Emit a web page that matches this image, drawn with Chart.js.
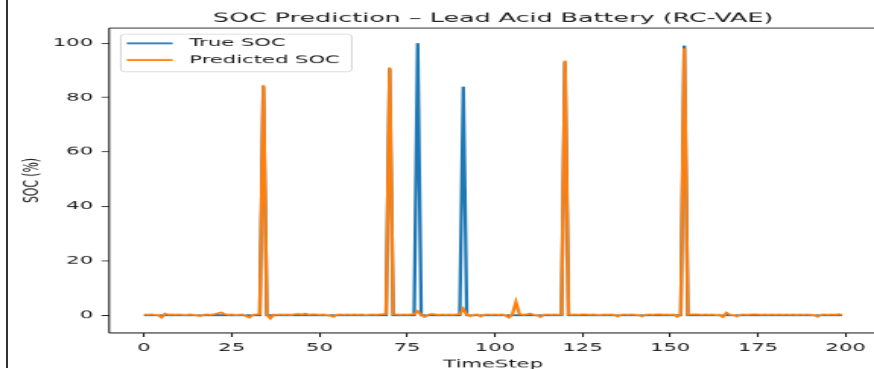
<!DOCTYPE html>
<html>
<head>
<meta charset="utf-8">
<script src="https://cdn.jsdelivr.net/npm/chart.js@4.4.1/dist/chart.umd.min.js"></script>
<style>
  html, body { margin: 0; padding: 0; background: #fff; overflow: hidden; width: 874px; height: 369px; }
  #edge { position: absolute; left: 6px; top: 0; width: 1.5px; height: 368px; background: #333; }
  #wrap { position: absolute; left: 0; top: 0; transform: scale(1.52, 0.78); transform-origin: 0 0; }
</style>
</head>
<body>
<div id="edge"></div>
<div id="wrap"><canvas id="soc" width="577" height="476"></canvas></div>
<script>
const seriesNames = ['True SOC', 'Predicted SOC'];

const trueSoc = [
  0, 0, 0, 0, 0, 0, 0, 0, 0, 0, 0, 0, 0, 0, 0, 0, 0, 0, 0, 0,
  0, 0, 0, 0, 0, 0, 0, 0, 0, 0, 0, 0, 0, 0, 84, 0, 0, 0, 0, 0,
  0, 0, 0, 0, 0, 0, 0, 0, 0, 0, 0, 0, 0, 0, 0, 0, 0, 0, 0, 0,
  0, 0, 0, 0, 0, 0, 0, 0, 0, 0, 90.5, 0, 0, 0, 0, 0, 0, 0, 100, 0,
  0, 0, 0, 0, 0, 0, 0, 0, 0, 0, 0, 84, 0, 0, 0, 0, 0, 0, 0, 0,
  0, 0, 0, 0, 0, 0, 0, 0, 0, 0, 0, 0, 0, 0, 0, 0, 0, 0, 0, 0,
  93, 0, 0, 0, 0, 0, 0, 0, 0, 0, 0, 0, 0, 0, 0, 0, 0, 0, 0, 0,
  0, 0, 0, 0, 0, 0, 0, 0, 0, 0, 0, 0, 0, 0, 99, 0, 0, 0, 0, 0,
  0, 0, 0, 0, 0, 0, 0, 0, 0, 0, 0, 0, 0, 0, 0, 0, 0, 0, 0, 0,
  0, 0, 0, 0, 0, 0, 0, 0, 0, 0, 0, 0, 0, 0, 0, 0, 0, 0, 0, 0
];

const predSoc = [
  0.3, 0.2, 0.3, 0.2, 0.1, -0.8, 0.6, 0.2, 0.3, 0.2, 0.3, 0.2, 0.1, 0.3, 0.2, 0.0, -0.3, 0.2, 0.3, 0.2,
  0.4, 0.7, 1.0, 0.4, 0.2, 0.3, 0.1, 0.2, 0.3, -0.2, -0.8, 0.2, 0.3, 0.4, 84.5, 0.2, -1.1, 0.3, 0.2, 0.3,
  0.2, 0.3, 0.1, 0.4, 0.5, 0.3, 0.6, 0.2, 0.4, 0.3, 0.2, 0.3, 0.1, -0.1, -0.5, 0.2, 0.3, 0.2, 0.3, 0.2,
  0.3, 0.2, 0.3, 0.1, 0.2, 0.3, 0.2, 0.3, 0.4, 0.5, 91.0, 0.4, 0.3, 0.2, 0.3, 0.2, 0.3, 0.4, 1.5, 0.1,
  -0.6, 0.2, 0.5, 0.3, 0.2, 0.3, 0.2, 0.3, 0.2, 0.3, 0.4, 2.4, 0.2, -0.3, 0.2, 0.3, -0.4, 0.2, 0.3, 0.2,
  0.3, 0.2, 0.3, 0.0, -0.8, 0.4, 4.8, 0.5, 0.2, 0.3, 0.6, 0.2, 0.1, -0.6, 0.2, 0.3, 0.2, 0.3, 0.2, 0.3,
  93.5, 0.3, 0.2, 0.3, 0.2, 0.4, 0.3, 0.2, 0.3, 0.2, 0.1, 0.3, 0.2, 0.3, 0.2, -0.4, 0.2, 0.3, 0.2, 0.3,
  0.2, 0.1, -0.4, 0.2, 0.3, 0.2, 0.3, 0.4, 0.2, 0.3, 0.2, 0.3, -0.5, 0.2, 98.0, 0.2, 0.3, 0.4, 0.3, 0.2,
  0.3, 0.2, 0.3, 0.1, 0.2, -0.6, 0.9, 0.2, 0.1, -0.4, 0.2, 0.3, 0.2, 0.3, 0.4, 0.3, 0.2, 0.3, 0.2, 0.3,
  0.2, 0.3, 0.2, 0.3, 0.2, 0.3, 0.1, 0.3, 0.2, 0.3, 0.2, 0.1, -0.5, 0.2, 0.3, 0.2, 0.3, 0.2, 0.4, 0.2
];

const timeSteps = trueSoc.map((_, i) => i);
const xTicks = [0, 25, 50, 75, 100, 125, 150, 175, 200];
const yTicks = [0, 20, 40, 60, 80, 100];

const ink = '#1a1a1a';
Chart.defaults.font.family = '"DejaVu Sans", sans-serif';
Chart.defaults.color = ink;

// center the title over the axes, not the whole canvas (matplotlib does that)
const titleOverAxes = {
  id: 'titleOverAxes',
  afterLayout(chart) {
    chart.titleBlock.left = chart.chartArea.left;
    chart.titleBlock.right = chart.chartArea.right;
  }
};

// top spine
const frame = {
  id: 'frame',
  afterDatasetsDraw(chart) {
    const { ctx, chartArea: a } = chart;
    ctx.save();
    ctx.strokeStyle = ink;
    ctx.lineWidth = 1.1;
    ctx.beginPath();
    ctx.moveTo(a.left, a.top);
    ctx.lineTo(a.right, a.top);
    ctx.moveTo(a.left, a.bottom);
    ctx.lineTo(a.right, a.bottom);
    ctx.moveTo(a.left, a.top);
    ctx.lineTo(a.left, a.bottom);
    ctx.stroke();
    ctx.restore();
  }
};

// boxed legend in the upper left of the axes
const boxLegend = {
  id: 'boxLegend',
  afterDraw(chart) {
    const ctx = chart.ctx;
    const rows = [55.5, 76.9];
    ctx.save();
    ctx.beginPath();
    ctx.roundRect(79.4, 44, 152, 47.9, 3);
    ctx.fillStyle = 'rgba(255,255,255,0.8)';
    ctx.fill();
    ctx.strokeStyle = '#d4d4d4';
    ctx.lineWidth = 1;
    ctx.stroke();
    ctx.font = '13.9px "DejaVu Sans"';
    ctx.textBaseline = 'middle';
    chart.data.datasets.forEach((ds, i) => {
      ctx.strokeStyle = ds.borderColor;
      ctx.lineWidth = 2.2;
      ctx.beginPath();
      ctx.moveTo(83.4, rows[i]);
      ctx.lineTo(113.6, rows[i]);
      ctx.stroke();
      ctx.fillStyle = ink;
      ctx.fillText(ds.label, 124.5, rows[i]);
    });
    ctx.restore();
  }
};

new Chart(document.getElementById('soc'), {
  type: 'line',
  data: {
    labels: timeSteps,
    datasets: [
      { label: seriesNames[0], data: trueSoc, borderColor: '#1f77b4', borderWidth: 2.3, pointRadius: 0, tension: 0, order: 1 },
      { label: seriesNames[1], data: predSoc, borderColor: '#ff7f0e', borderWidth: 2.3, pointRadius: 0, tension: 0, order: 0 }
    ]
  },
  options: {
    responsive: false,
    animation: false,
    events: [],
    layout: { padding: 0 },
    plugins: {
      legend: { display: false },
      tooltip: { enabled: false },
      title: {
        display: true,
        text: 'SOC Prediction – Lead Acid Battery (RC-VAE)',
        color: ink,
        font: { size: 16.7, weight: 'normal' },
        padding: { top: 13.7, bottom: 2.2 }
      }
    },
    scales: {
      x: {
        type: 'linear',
        min: -9.95,
        max: 208.95,
        afterBuildTicks: s => { s.ticks = xTicks.map(v => ({ value: v })); },
        afterFit: s => { s.height = 49.1; },
        ticks: { autoSkip: false, maxRotation: 0, padding: 6, font: { size: 13.9 }, color: ink },
        grid: { drawOnChartArea: false, drawTicks: true, tickLength: 5, color: ink, lineWidth: 1.1 },
        border: { display: false },
        title: { display: true, text: 'TimeStep', font: { size: 13.9 }, color: ink, padding: { top: 0, bottom: 0.6 } }
      },
      y: {
        min: -6.5,
        max: 105.5,
        afterBuildTicks: s => { s.ticks = yTicks.map(v => ({ value: v })); },
        afterFit: s => { s.width = 71.8; },
        ticks: { autoSkip: false, padding: 5.5, font: { size: 13.9 }, color: ink },
        grid: { drawOnChartArea: false, drawTicks: true, tickLength: 5, color: ink, lineWidth: 1.1 },
        border: { display: false },
        title: { display: true, text: 'SOC (%)', font: { size: 13.9 }, color: ink, padding: { top: 13.1, bottom: 0 } }
      }
    }
  },
  plugins: [titleOverAxes, frame, boxLegend]
});
</script>
</body>
</html>
